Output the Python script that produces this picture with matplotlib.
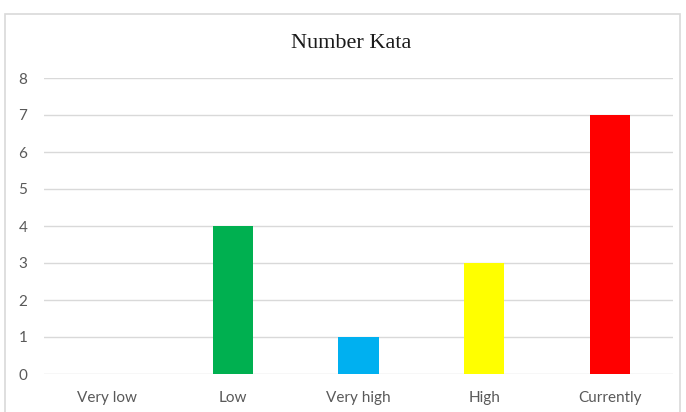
import matplotlib
matplotlib.use("Agg")
import matplotlib.pyplot as plt
from matplotlib.patches import Rectangle

categories = ["Very low", "Low", "Very high", "High", "Currently"]
values = [0, 4, 1, 3, 7]
colors = ["#4472C4", "#00B050", "#00B0F0", "#FFFF00", "#FF0000"]
yticks = [0, 1, 2, 3, 4, 5, 6, 7, 8]
title = "Number Kata"

W, H = 686, 412
fig = plt.figure(figsize=(W / 100, H / 100), dpi=100)
fig.patch.set_facecolor("white")

# chart border
fig.patches.append(Rectangle((5 / W, -0.01), (680 - 5) / W, (H - 14) / H + 0.01,
                             transform=fig.transFigure, fill=False,
                             edgecolor="#D9D9D9", linewidth=1.2))

left, right = 44 / W, 673 / W
bottom, top = 1 - 374 / H, 1 - 78 / H
ax = fig.add_axes([left, bottom, right - left, top - bottom])
x = list(range(len(categories)))
ax.bar(x, values, width=0.32, color=colors, zorder=3)
ax.set_xlim(-0.5, len(categories) - 0.5)
ax.set_ylim(0, 8)
ax.set_yticks(yticks)
ax.set_xticks(x)
ax.set_xticklabels(categories)
for s in ax.spines.values():
    s.set_visible(False)
ax.grid(axis="y", color="#D9D9D9", linewidth=1, zorder=0)
ax.tick_params(axis="both", length=0, colors="#595959", labelsize=11)
ax.tick_params(axis="x", pad=12)
for lbl in ax.get_xticklabels() + ax.get_yticklabels():
    lbl.set_fontfamily("Lato")
for lbl in ax.get_yticklabels():
    lbl.set_horizontalalignment("left")
ax.tick_params(axis="y", pad=18.5)

fig.text(351 / W, 1 - 44 / H, title, ha="center", va="center",
         fontfamily="Liberation Serif", fontsize=16, color="#1a1a1a")

fig.savefig("out.png", dpi=100)
